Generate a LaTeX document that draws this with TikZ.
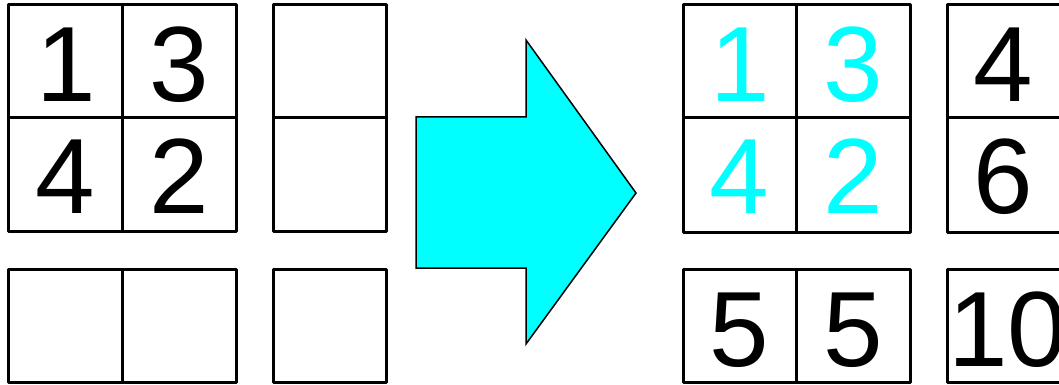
\documentclass[tikz,border=0pt]{standalone}
\usepackage{fontspec}
\setmainfont{Liberation Sans}
\definecolor{aqua}{RGB}{0,255,255}
\begin{document}
\begin{tikzpicture}[x=1pt,y=-1pt,
  cellbox/.style={draw=black, line width=3pt, line join=round, inner sep=0pt, outer sep=0pt, rectangle},
  digit/.style={anchor=base, inner sep=0pt, font=\fontsize{107}{107}\selectfont},
  cyandigit/.style={digit, text=aqua},
  arrowshape/.style={fill=aqua, draw=black, line width=1.5pt, line join=miter}]
\useasboundingbox (0,0) rectangle (1059,385);
% ---- left group ----
\node[cellbox, minimum width=114pt, minimum height=113pt] (L11) at (65,61.5) {};
\node[cellbox, minimum width=114pt, minimum height=113pt] (L12) at (179,61.5) {};
\node[cellbox, minimum width=114pt, minimum height=113pt] (L21) at (65,174.5) {};
\node[cellbox, minimum width=114pt, minimum height=113pt] (L22) at (179,174.5) {};
\node[cellbox, minimum width=113pt, minimum height=113pt] (L13) at (329.5,61.5) {};
\node[cellbox, minimum width=113pt, minimum height=113pt] (L23) at (329.5,174.5) {};
\node[cellbox, minimum width=114pt, minimum height=113pt] (L31) at (65,325.5) {};
\node[cellbox, minimum width=114pt, minimum height=113pt] (L32) at (179,325.5) {};
\node[cellbox, minimum width=113pt, minimum height=113pt] (L33) at (329.5,325.5) {};
\node[digit] (tL11) at (66,102) {1};
\node[digit] (tL12) at (179,102) {3};
\node[digit] (tL21) at (65,213) {4};
\node[digit] (tL22) at (179,213) {2};
% ---- arrow ----
\draw[arrowshape] (416,117) -- (526,117) -- (526,40) -- (636,193) -- (526,344) -- (526,268) -- (416,268) -- cycle;
% ---- right group ----
\node[cellbox, minimum width=113pt, minimum height=113pt] (R11) at (739.5,61.5) {};
\node[cellbox, minimum width=114pt, minimum height=113pt] (R12) at (853,61.5) {};
\node[cellbox, minimum width=113pt, minimum height=114pt] (R21) at (739.5,175) {};
\node[cellbox, minimum width=114pt, minimum height=114pt] (R22) at (853,175) {};
\node[cellbox, minimum width=113pt, minimum height=113pt] (R13) at (1003.5,61.5) {};
\node[cellbox, minimum width=113pt, minimum height=114pt] (R23) at (1003.5,175) {};
\node[cellbox, minimum width=113pt, minimum height=113pt] (R31) at (739.5,325.5) {};
\node[cellbox, minimum width=114pt, minimum height=113pt] (R32) at (853,325.5) {};
\node[cellbox, minimum width=113pt, minimum height=113pt] (R33) at (1003.5,325.5) {};
\node[cyandigit] (tR11) at (740.5,102) {1};
\node[cyandigit] (tR12) at (853,102) {3};
\node[cyandigit] (tR21) at (739.5,213) {4};
\node[cyandigit] (tR22) at (853,213) {2};
\node[digit] (tR13) at (1003.5,102) {4};
\node[digit] (tR23) at (1003.5,213) {6};
\node[digit] (tR31) at (739.5,366) {5};
\node[digit] (tR32) at (853,366) {5};
\node[digit] (tR33) at (1008,366) {10};
\end{tikzpicture}
\end{document}
